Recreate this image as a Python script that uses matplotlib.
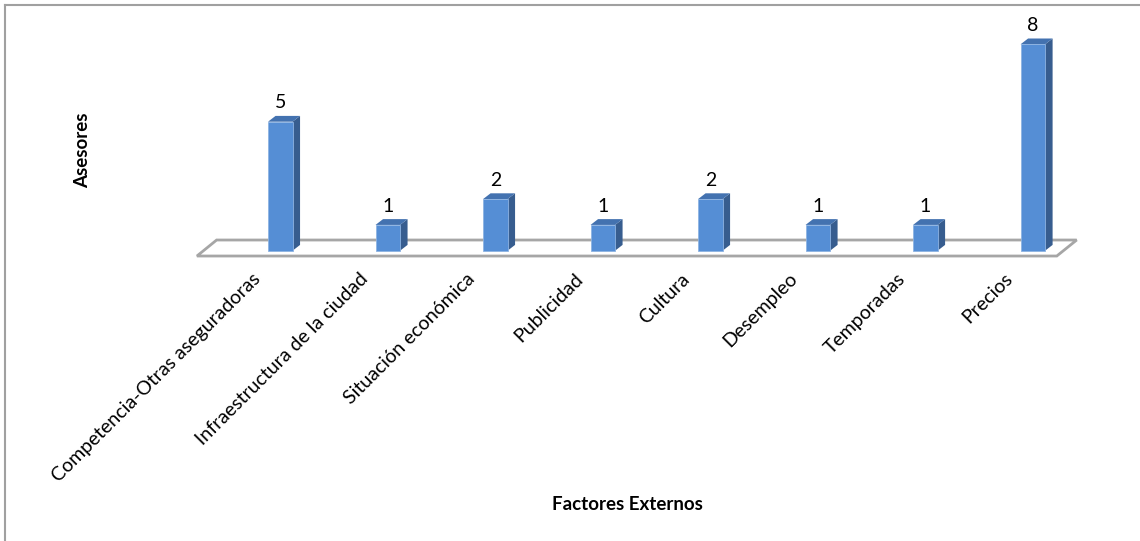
import matplotlib.pyplot as plt
from matplotlib.patches import Polygon
from matplotlib.lines import Line2D

categories = [
    "Competencia-Otras aseguradoras",
    "Infraestructura de la ciudad",
    "Situación económica",
    "Publicidad",
    "Cultura",
    "Desempleo",
    "Temporadas",
    "Precios",
]
asesores = [5, 1, 2, 1, 2, 1, 1, 8]

plt.rcParams['font.family'] = ['Lato', 'DejaVu Sans']

front_color = '#558ed5'
side_color = '#375d8f'
top_color = '#4372b0'
edge_color = '#8db3e2'

fig = plt.figure(figsize=(11.4, 5.41), dpi=100)
ax = fig.add_axes([0, 0, 1, 1])
ax.set_xlim(-2.607, 7.997)
ax.set_ylim(-11.25, 9.717)
ax.axis('off')

# bar geometry (data units): width of the front face and the 3d depth offset
w = 0.228
dx, dy = 0.07, 0.225

# floor of the 3d plot
n = len(categories)
floor = Polygon([(-0.775, -0.205), (n - 1 + 0.223, -0.205),
                 (n - 1 + 0.408, 0.415), (-0.592, 0.415)],
                closed=True, facecolor='white', edgecolor='#a6a6a6', lw=2, zorder=1)
ax.add_patch(floor)

for i, v in enumerate(asesores):
    l, r = i - w / 2, i + w / 2
    ax.bar(i, v, width=w, color=front_color, edgecolor=edge_color, lw=0.6, zorder=3)
    side = Polygon([(r, 0), (r + dx, dy), (r + dx, v + dy), (r, v)],
                   closed=True, facecolor=side_color, edgecolor='none', zorder=2)
    top = Polygon([(l, v), (r, v), (r + dx, v + dy), (l + dx, v + dy)],
                  closed=True, facecolor=top_color, edgecolor='none', zorder=2)
    ax.add_patch(side)
    ax.add_patch(top)
    ax.text(i, v + 0.4, str(v), ha='center', va='bottom', fontsize=14)
    # category labels hang below the front edge of the floor
    ax.text(i - 0.27, -0.75, categories[i], rotation=45, rotation_mode='anchor',
            ha='right', va='top', fontsize=14)

fig.text(83 / 1140, 1 - 150 / 541, "Asesores", rotation=90, ha='center', va='center',
         fontsize=13.5, fontweight='bold')
fig.text(627 / 1140, 1 - 505 / 541, "Factores Externos", ha='center', va='center',
         fontsize=13.5, fontweight='bold')

# outer chart frame (left and top edges)
fig.add_artist(Line2D([5 / 1140, 5 / 1140], [0, 1 - 5 / 541], color='#a0a0a0', lw=1.5))
fig.add_artist(Line2D([5 / 1140, 1], [1 - 5 / 541, 1 - 5 / 541], color='#a0a0a0', lw=1.5))

fig.savefig('out.png', dpi=100, facecolor='white')
